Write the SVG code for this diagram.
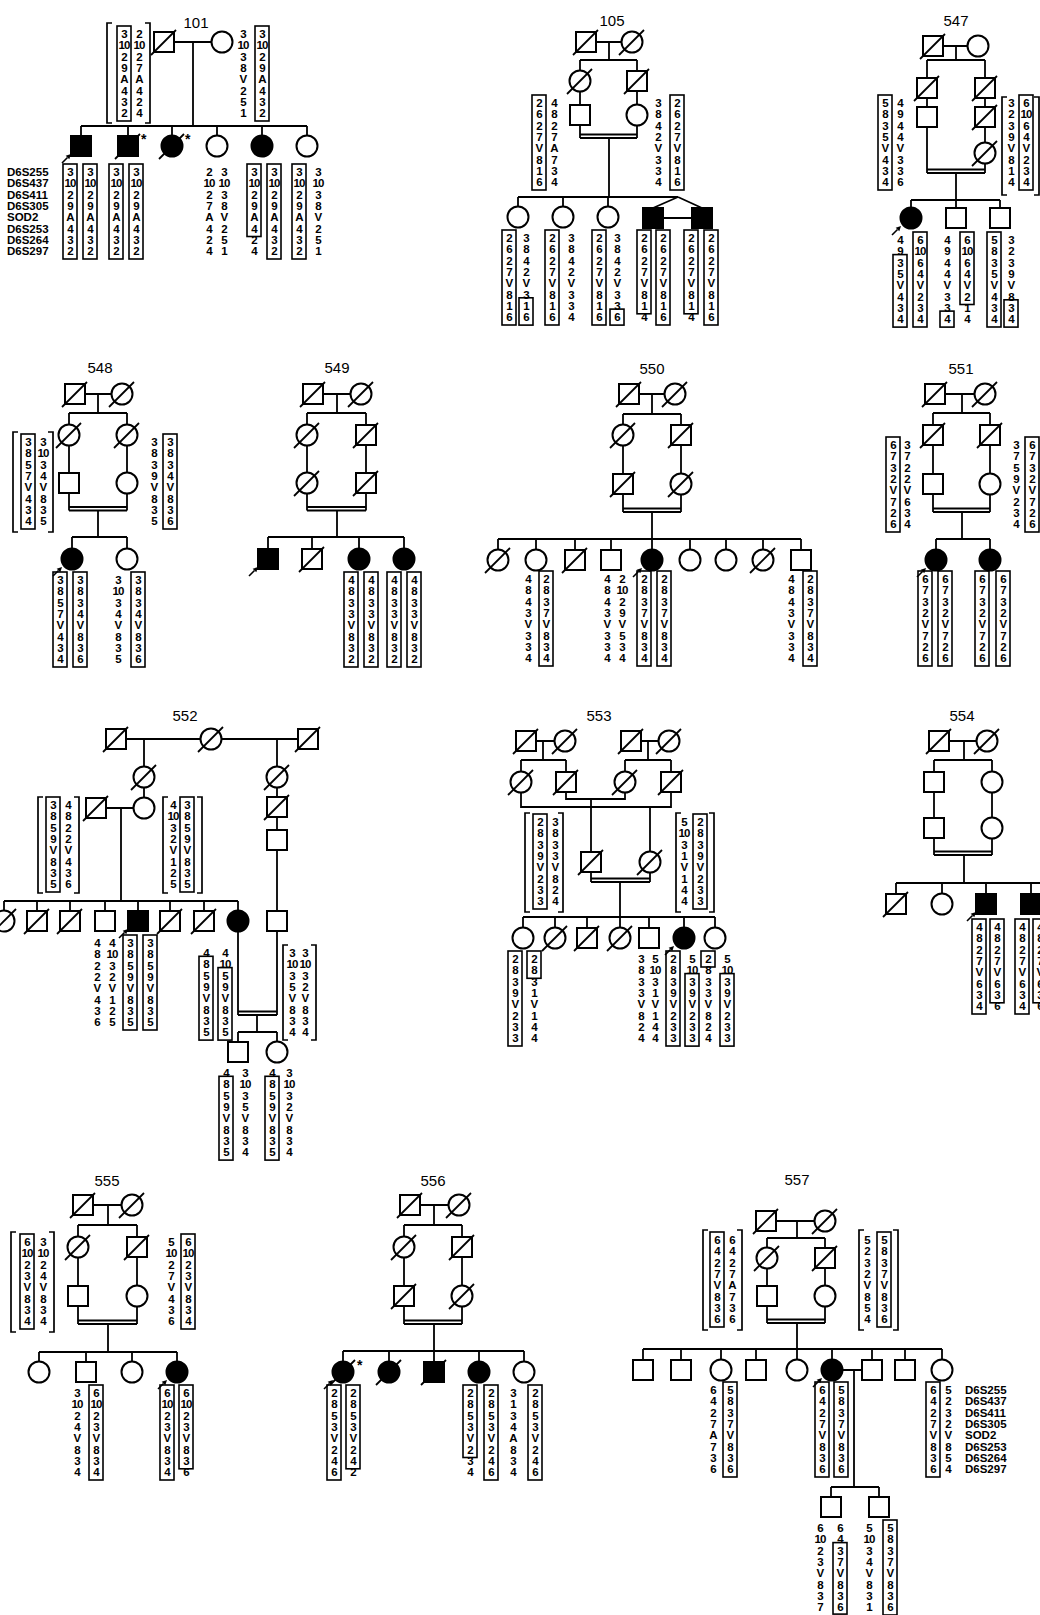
<svg xmlns="http://www.w3.org/2000/svg" xmlns:xlink="http://www.w3.org/1999/xlink" width="1040" height="1615" viewBox="0 0 1040 1615">
<style>
.s{fill:#fff;stroke:#000;stroke-width:2}
.f{fill:#000;stroke:#000;stroke-width:2}
.ln{fill:none;stroke:#000;stroke-width:1.8}
.bx{fill:none;stroke:#000;stroke-width:1.6}
.br{fill:none;stroke:#000;stroke-width:1.7}
.h{font-family:"Liberation Sans",Arial,sans-serif;font-weight:bold;font-size:11.5px;letter-spacing:-0.9px;text-anchor:middle;fill:#000}
.ttl{font-family:"Liberation Sans",Arial,sans-serif;font-size:15px;text-anchor:middle;fill:#000}
.mk{font-family:"Liberation Sans",Arial,sans-serif;font-weight:bold;font-size:11.5px;fill:#000}
.ast{font-family:"Liberation Sans",Arial,sans-serif;font-weight:bold;font-size:14px;fill:#000}
</style>
<defs>
<rect id="sq" class="s" x="-10" y="-10" width="20" height="20"/>
<rect id="fsq" class="f" x="-10" y="-10" width="20" height="20"/>
<circle id="ci" class="s" r="10.5"/>
<circle id="fci" class="f" r="10.5"/>
<line id="sl" class="ln" x1="-13" y1="13" x2="12" y2="-12"/>
<g id="dsq"><use href="#sq"/><use href="#sl"/></g>
<g id="dci"><use href="#ci"/><use href="#sl"/></g>
<g id="dfsq"><use href="#fsq"/><use href="#sl"/></g>
<g id="dfci"><use href="#fci"/><use href="#sl"/></g>
<g id="ar"><line x1="-19" y1="17" x2="-13.5" y2="11.5" stroke="#000" stroke-width="1.6"/><path d="M-10,8 L-15.3,9.7 L-11.7,13.3 Z" fill="#000"/></g>
<rect id="B" class="bx" x="-7" y="-12" width="14" height="95"/>
<text id="H1" class="h"><tspan x="0">3</tspan><tspan x="0" dy="11.3">10</tspan><tspan x="0" dy="11.3">2</tspan><tspan x="0" dy="11.3">9</tspan><tspan x="0" dy="11.3">A</tspan><tspan x="0" dy="11.3">4</tspan><tspan x="0" dy="11.3">3</tspan><tspan x="0" dy="11.3">2</tspan></text>
<text id="H2" class="h"><tspan x="0">2</tspan><tspan x="0" dy="11.3">10</tspan><tspan x="0" dy="11.3">2</tspan><tspan x="0" dy="11.3">7</tspan><tspan x="0" dy="11.3">A</tspan><tspan x="0" dy="11.3">4</tspan><tspan x="0" dy="11.3">2</tspan><tspan x="0" dy="11.3">4</tspan></text>
<text id="H3" class="h"><tspan x="0">3</tspan><tspan x="0" dy="11.3">10</tspan><tspan x="0" dy="11.3">3</tspan><tspan x="0" dy="11.3">8</tspan><tspan x="0" dy="11.3">V</tspan><tspan x="0" dy="11.3">2</tspan><tspan x="0" dy="11.3">5</tspan><tspan x="0" dy="11.3">1</tspan></text>
<text id="H59" class="h"><tspan x="0">3</tspan><tspan x="0" dy="11.3">10</tspan><tspan x="0" dy="11.3">2</tspan><tspan x="0" dy="11.3">9</tspan><tspan x="0" dy="11.3">A</tspan><tspan x="0" dy="11.3">4</tspan><tspan x="0" dy="11.3">2</tspan><tspan x="0" dy="11.3">4</tspan></text>
<text id="H4" class="h"><tspan x="0">2</tspan><tspan x="0" dy="11.3">6</tspan><tspan x="0" dy="11.3">2</tspan><tspan x="0" dy="11.3">7</tspan><tspan x="0" dy="11.3">V</tspan><tspan x="0" dy="11.3">8</tspan><tspan x="0" dy="11.3">1</tspan><tspan x="0" dy="11.3">6</tspan></text>
<text id="H5" class="h"><tspan x="0">4</tspan><tspan x="0" dy="11.3">8</tspan><tspan x="0" dy="11.3">2</tspan><tspan x="0" dy="11.3">7</tspan><tspan x="0" dy="11.3">A</tspan><tspan x="0" dy="11.3">7</tspan><tspan x="0" dy="11.3">3</tspan><tspan x="0" dy="11.3">4</tspan></text>
<text id="H6" class="h"><tspan x="0">3</tspan><tspan x="0" dy="11.3">8</tspan><tspan x="0" dy="11.3">4</tspan><tspan x="0" dy="11.3">2</tspan><tspan x="0" dy="11.3">V</tspan><tspan x="0" dy="11.3">3</tspan><tspan x="0" dy="11.3">3</tspan><tspan x="0" dy="11.3">4</tspan></text>
<text id="H7" class="h"><tspan x="0">3</tspan><tspan x="0" dy="11.3">8</tspan><tspan x="0" dy="11.3">4</tspan><tspan x="0" dy="11.3">2</tspan><tspan x="0" dy="11.3">V</tspan><tspan x="0" dy="11.3">3</tspan><tspan x="0" dy="11.3">1</tspan><tspan x="0" dy="11.3">6</tspan></text>
<text id="H8" class="h"><tspan x="0">3</tspan><tspan x="0" dy="11.3">8</tspan><tspan x="0" dy="11.3">4</tspan><tspan x="0" dy="11.3">2</tspan><tspan x="0" dy="11.3">V</tspan><tspan x="0" dy="11.3">3</tspan><tspan x="0" dy="11.3">3</tspan><tspan x="0" dy="11.3">6</tspan></text>
<text id="H9" class="h"><tspan x="0">2</tspan><tspan x="0" dy="11.3">6</tspan><tspan x="0" dy="11.3">2</tspan><tspan x="0" dy="11.3">7</tspan><tspan x="0" dy="11.3">V</tspan><tspan x="0" dy="11.3">8</tspan><tspan x="0" dy="11.3">1</tspan><tspan x="0" dy="11.3">4</tspan></text>
<text id="H10" class="h"><tspan x="0">5</tspan><tspan x="0" dy="11.3">8</tspan><tspan x="0" dy="11.3">3</tspan><tspan x="0" dy="11.3">5</tspan><tspan x="0" dy="11.3">V</tspan><tspan x="0" dy="11.3">4</tspan><tspan x="0" dy="11.3">3</tspan><tspan x="0" dy="11.3">4</tspan></text>
<text id="H11" class="h"><tspan x="0">4</tspan><tspan x="0" dy="11.3">9</tspan><tspan x="0" dy="11.3">4</tspan><tspan x="0" dy="11.3">4</tspan><tspan x="0" dy="11.3">V</tspan><tspan x="0" dy="11.3">3</tspan><tspan x="0" dy="11.3">3</tspan><tspan x="0" dy="11.3">6</tspan></text>
<text id="H12" class="h"><tspan x="0">3</tspan><tspan x="0" dy="11.3">2</tspan><tspan x="0" dy="11.3">3</tspan><tspan x="0" dy="11.3">9</tspan><tspan x="0" dy="11.3">V</tspan><tspan x="0" dy="11.3">8</tspan><tspan x="0" dy="11.3">1</tspan><tspan x="0" dy="11.3">4</tspan></text>
<text id="H13" class="h"><tspan x="0">6</tspan><tspan x="0" dy="11.3">10</tspan><tspan x="0" dy="11.3">6</tspan><tspan x="0" dy="11.3">4</tspan><tspan x="0" dy="11.3">V</tspan><tspan x="0" dy="11.3">2</tspan><tspan x="0" dy="11.3">3</tspan><tspan x="0" dy="11.3">4</tspan></text>
<text id="H14" class="h"><tspan x="0">4</tspan><tspan x="0" dy="11.3">9</tspan><tspan x="0" dy="11.3">3</tspan><tspan x="0" dy="11.3">5</tspan><tspan x="0" dy="11.3">V</tspan><tspan x="0" dy="11.3">4</tspan><tspan x="0" dy="11.3">3</tspan><tspan x="0" dy="11.3">4</tspan></text>
<text id="H15" class="h"><tspan x="0">4</tspan><tspan x="0" dy="11.3">9</tspan><tspan x="0" dy="11.3">4</tspan><tspan x="0" dy="11.3">4</tspan><tspan x="0" dy="11.3">V</tspan><tspan x="0" dy="11.3">3</tspan><tspan x="0" dy="11.3">3</tspan><tspan x="0" dy="11.3">4</tspan></text>
<text id="H16" class="h"><tspan x="0">6</tspan><tspan x="0" dy="11.3">10</tspan><tspan x="0" dy="11.3">6</tspan><tspan x="0" dy="11.3">4</tspan><tspan x="0" dy="11.3">V</tspan><tspan x="0" dy="11.3">2</tspan><tspan x="0" dy="11.3">1</tspan><tspan x="0" dy="11.3">4</tspan></text>
<text id="H17" class="h"><tspan x="0">3</tspan><tspan x="0" dy="11.3">2</tspan><tspan x="0" dy="11.3">3</tspan><tspan x="0" dy="11.3">9</tspan><tspan x="0" dy="11.3">V</tspan><tspan x="0" dy="11.3">8</tspan><tspan x="0" dy="11.3">3</tspan><tspan x="0" dy="11.3">4</tspan></text>
<text id="H18" class="h"><tspan x="0">3</tspan><tspan x="0" dy="11.3">8</tspan><tspan x="0" dy="11.3">5</tspan><tspan x="0" dy="11.3">7</tspan><tspan x="0" dy="11.3">V</tspan><tspan x="0" dy="11.3">4</tspan><tspan x="0" dy="11.3">3</tspan><tspan x="0" dy="11.3">4</tspan></text>
<text id="H19" class="h"><tspan x="0">3</tspan><tspan x="0" dy="11.3">10</tspan><tspan x="0" dy="11.3">3</tspan><tspan x="0" dy="11.3">4</tspan><tspan x="0" dy="11.3">V</tspan><tspan x="0" dy="11.3">8</tspan><tspan x="0" dy="11.3">3</tspan><tspan x="0" dy="11.3">5</tspan></text>
<text id="H20" class="h"><tspan x="0">3</tspan><tspan x="0" dy="11.3">8</tspan><tspan x="0" dy="11.3">3</tspan><tspan x="0" dy="11.3">9</tspan><tspan x="0" dy="11.3">V</tspan><tspan x="0" dy="11.3">8</tspan><tspan x="0" dy="11.3">3</tspan><tspan x="0" dy="11.3">5</tspan></text>
<text id="H21" class="h"><tspan x="0">3</tspan><tspan x="0" dy="11.3">8</tspan><tspan x="0" dy="11.3">3</tspan><tspan x="0" dy="11.3">4</tspan><tspan x="0" dy="11.3">V</tspan><tspan x="0" dy="11.3">8</tspan><tspan x="0" dy="11.3">3</tspan><tspan x="0" dy="11.3">6</tspan></text>
<text id="H22" class="h"><tspan x="0">4</tspan><tspan x="0" dy="11.3">8</tspan><tspan x="0" dy="11.3">3</tspan><tspan x="0" dy="11.3">3</tspan><tspan x="0" dy="11.3">V</tspan><tspan x="0" dy="11.3">8</tspan><tspan x="0" dy="11.3">3</tspan><tspan x="0" dy="11.3">2</tspan></text>
<text id="H23" class="h"><tspan x="0">4</tspan><tspan x="0" dy="11.3">8</tspan><tspan x="0" dy="11.3">4</tspan><tspan x="0" dy="11.3">3</tspan><tspan x="0" dy="11.3">V</tspan><tspan x="0" dy="11.3">3</tspan><tspan x="0" dy="11.3">3</tspan><tspan x="0" dy="11.3">4</tspan></text>
<text id="H24" class="h"><tspan x="0">2</tspan><tspan x="0" dy="11.3">8</tspan><tspan x="0" dy="11.3">3</tspan><tspan x="0" dy="11.3">7</tspan><tspan x="0" dy="11.3">V</tspan><tspan x="0" dy="11.3">8</tspan><tspan x="0" dy="11.3">3</tspan><tspan x="0" dy="11.3">4</tspan></text>
<text id="H25" class="h"><tspan x="0">2</tspan><tspan x="0" dy="11.3">10</tspan><tspan x="0" dy="11.3">2</tspan><tspan x="0" dy="11.3">9</tspan><tspan x="0" dy="11.3">V</tspan><tspan x="0" dy="11.3">5</tspan><tspan x="0" dy="11.3">3</tspan><tspan x="0" dy="11.3">4</tspan></text>
<text id="H26" class="h"><tspan x="0">6</tspan><tspan x="0" dy="11.3">7</tspan><tspan x="0" dy="11.3">3</tspan><tspan x="0" dy="11.3">2</tspan><tspan x="0" dy="11.3">V</tspan><tspan x="0" dy="11.3">7</tspan><tspan x="0" dy="11.3">2</tspan><tspan x="0" dy="11.3">6</tspan></text>
<text id="H27" class="h"><tspan x="0">3</tspan><tspan x="0" dy="11.3">7</tspan><tspan x="0" dy="11.3">2</tspan><tspan x="0" dy="11.3">2</tspan><tspan x="0" dy="11.3">V</tspan><tspan x="0" dy="11.3">6</tspan><tspan x="0" dy="11.3">3</tspan><tspan x="0" dy="11.3">4</tspan></text>
<text id="H28" class="h"><tspan x="0">3</tspan><tspan x="0" dy="11.3">7</tspan><tspan x="0" dy="11.3">5</tspan><tspan x="0" dy="11.3">9</tspan><tspan x="0" dy="11.3">V</tspan><tspan x="0" dy="11.3">2</tspan><tspan x="0" dy="11.3">3</tspan><tspan x="0" dy="11.3">4</tspan></text>
<text id="H29" class="h"><tspan x="0">3</tspan><tspan x="0" dy="11.3">8</tspan><tspan x="0" dy="11.3">5</tspan><tspan x="0" dy="11.3">9</tspan><tspan x="0" dy="11.3">V</tspan><tspan x="0" dy="11.3">8</tspan><tspan x="0" dy="11.3">3</tspan><tspan x="0" dy="11.3">5</tspan></text>
<text id="H30" class="h"><tspan x="0">4</tspan><tspan x="0" dy="11.3">8</tspan><tspan x="0" dy="11.3">2</tspan><tspan x="0" dy="11.3">2</tspan><tspan x="0" dy="11.3">V</tspan><tspan x="0" dy="11.3">4</tspan><tspan x="0" dy="11.3">3</tspan><tspan x="0" dy="11.3">6</tspan></text>
<text id="H31" class="h"><tspan x="0">4</tspan><tspan x="0" dy="11.3">10</tspan><tspan x="0" dy="11.3">3</tspan><tspan x="0" dy="11.3">2</tspan><tspan x="0" dy="11.3">V</tspan><tspan x="0" dy="11.3">1</tspan><tspan x="0" dy="11.3">2</tspan><tspan x="0" dy="11.3">5</tspan></text>
<text id="H32" class="h"><tspan x="0">4</tspan><tspan x="0" dy="11.3">8</tspan><tspan x="0" dy="11.3">5</tspan><tspan x="0" dy="11.3">9</tspan><tspan x="0" dy="11.3">V</tspan><tspan x="0" dy="11.3">8</tspan><tspan x="0" dy="11.3">3</tspan><tspan x="0" dy="11.3">5</tspan></text>
<text id="H33" class="h"><tspan x="0">4</tspan><tspan x="0" dy="11.3">10</tspan><tspan x="0" dy="11.3">5</tspan><tspan x="0" dy="11.3">9</tspan><tspan x="0" dy="11.3">V</tspan><tspan x="0" dy="11.3">8</tspan><tspan x="0" dy="11.3">3</tspan><tspan x="0" dy="11.3">5</tspan></text>
<text id="H34" class="h"><tspan x="0">3</tspan><tspan x="0" dy="11.3">10</tspan><tspan x="0" dy="11.3">3</tspan><tspan x="0" dy="11.3">5</tspan><tspan x="0" dy="11.3">V</tspan><tspan x="0" dy="11.3">8</tspan><tspan x="0" dy="11.3">3</tspan><tspan x="0" dy="11.3">4</tspan></text>
<text id="H35" class="h"><tspan x="0">3</tspan><tspan x="0" dy="11.3">10</tspan><tspan x="0" dy="11.3">3</tspan><tspan x="0" dy="11.3">2</tspan><tspan x="0" dy="11.3">V</tspan><tspan x="0" dy="11.3">8</tspan><tspan x="0" dy="11.3">3</tspan><tspan x="0" dy="11.3">4</tspan></text>
<text id="H36" class="h"><tspan x="0">2</tspan><tspan x="0" dy="11.3">8</tspan><tspan x="0" dy="11.3">3</tspan><tspan x="0" dy="11.3">9</tspan><tspan x="0" dy="11.3">V</tspan><tspan x="0" dy="11.3">2</tspan><tspan x="0" dy="11.3">3</tspan><tspan x="0" dy="11.3">3</tspan></text>
<text id="H37" class="h"><tspan x="0">3</tspan><tspan x="0" dy="11.3">8</tspan><tspan x="0" dy="11.3">3</tspan><tspan x="0" dy="11.3">3</tspan><tspan x="0" dy="11.3">V</tspan><tspan x="0" dy="11.3">8</tspan><tspan x="0" dy="11.3">2</tspan><tspan x="0" dy="11.3">4</tspan></text>
<text id="H38" class="h"><tspan x="0">5</tspan><tspan x="0" dy="11.3">10</tspan><tspan x="0" dy="11.3">3</tspan><tspan x="0" dy="11.3">1</tspan><tspan x="0" dy="11.3">V</tspan><tspan x="0" dy="11.3">1</tspan><tspan x="0" dy="11.3">4</tspan><tspan x="0" dy="11.3">4</tspan></text>
<text id="H39" class="h"><tspan x="0">2</tspan><tspan x="0" dy="11.3">8</tspan><tspan x="0" dy="11.3">3</tspan><tspan x="0" dy="11.3">1</tspan><tspan x="0" dy="11.3">V</tspan><tspan x="0" dy="11.3">1</tspan><tspan x="0" dy="11.3">4</tspan><tspan x="0" dy="11.3">4</tspan></text>
<text id="H40" class="h"><tspan x="0">5</tspan><tspan x="0" dy="11.3">10</tspan><tspan x="0" dy="11.3">3</tspan><tspan x="0" dy="11.3">9</tspan><tspan x="0" dy="11.3">V</tspan><tspan x="0" dy="11.3">2</tspan><tspan x="0" dy="11.3">3</tspan><tspan x="0" dy="11.3">3</tspan></text>
<text id="H41" class="h"><tspan x="0">2</tspan><tspan x="0" dy="11.3">8</tspan><tspan x="0" dy="11.3">3</tspan><tspan x="0" dy="11.3">3</tspan><tspan x="0" dy="11.3">V</tspan><tspan x="0" dy="11.3">8</tspan><tspan x="0" dy="11.3">2</tspan><tspan x="0" dy="11.3">4</tspan></text>
<text id="H42" class="h"><tspan x="0">4</tspan><tspan x="0" dy="11.3">8</tspan><tspan x="0" dy="11.3">2</tspan><tspan x="0" dy="11.3">7</tspan><tspan x="0" dy="11.3">V</tspan><tspan x="0" dy="11.3">6</tspan><tspan x="0" dy="11.3">3</tspan><tspan x="0" dy="11.3">4</tspan></text>
<text id="H43" class="h"><tspan x="0">4</tspan><tspan x="0" dy="11.3">8</tspan><tspan x="0" dy="11.3">2</tspan><tspan x="0" dy="11.3">7</tspan><tspan x="0" dy="11.3">V</tspan><tspan x="0" dy="11.3">6</tspan><tspan x="0" dy="11.3">3</tspan><tspan x="0" dy="11.3">6</tspan></text>
<text id="H44" class="h"><tspan x="0">6</tspan><tspan x="0" dy="11.3">10</tspan><tspan x="0" dy="11.3">2</tspan><tspan x="0" dy="11.3">3</tspan><tspan x="0" dy="11.3">V</tspan><tspan x="0" dy="11.3">8</tspan><tspan x="0" dy="11.3">3</tspan><tspan x="0" dy="11.3">4</tspan></text>
<text id="H45" class="h"><tspan x="0">3</tspan><tspan x="0" dy="11.3">10</tspan><tspan x="0" dy="11.3">2</tspan><tspan x="0" dy="11.3">4</tspan><tspan x="0" dy="11.3">V</tspan><tspan x="0" dy="11.3">8</tspan><tspan x="0" dy="11.3">3</tspan><tspan x="0" dy="11.3">4</tspan></text>
<text id="H46" class="h"><tspan x="0">5</tspan><tspan x="0" dy="11.3">10</tspan><tspan x="0" dy="11.3">2</tspan><tspan x="0" dy="11.3">7</tspan><tspan x="0" dy="11.3">V</tspan><tspan x="0" dy="11.3">4</tspan><tspan x="0" dy="11.3">3</tspan><tspan x="0" dy="11.3">6</tspan></text>
<text id="H47" class="h"><tspan x="0">6</tspan><tspan x="0" dy="11.3">10</tspan><tspan x="0" dy="11.3">2</tspan><tspan x="0" dy="11.3">3</tspan><tspan x="0" dy="11.3">V</tspan><tspan x="0" dy="11.3">8</tspan><tspan x="0" dy="11.3">3</tspan><tspan x="0" dy="11.3">6</tspan></text>
<text id="H48" class="h"><tspan x="0">2</tspan><tspan x="0" dy="11.3">8</tspan><tspan x="0" dy="11.3">5</tspan><tspan x="0" dy="11.3">3</tspan><tspan x="0" dy="11.3">V</tspan><tspan x="0" dy="11.3">2</tspan><tspan x="0" dy="11.3">4</tspan><tspan x="0" dy="11.3">6</tspan></text>
<text id="H49" class="h"><tspan x="0">2</tspan><tspan x="0" dy="11.3">8</tspan><tspan x="0" dy="11.3">5</tspan><tspan x="0" dy="11.3">3</tspan><tspan x="0" dy="11.3">V</tspan><tspan x="0" dy="11.3">2</tspan><tspan x="0" dy="11.3">4</tspan><tspan x="0" dy="11.3">2</tspan></text>
<text id="H50" class="h"><tspan x="0">2</tspan><tspan x="0" dy="11.3">8</tspan><tspan x="0" dy="11.3">5</tspan><tspan x="0" dy="11.3">3</tspan><tspan x="0" dy="11.3">V</tspan><tspan x="0" dy="11.3">2</tspan><tspan x="0" dy="11.3">3</tspan><tspan x="0" dy="11.3">4</tspan></text>
<text id="H51" class="h"><tspan x="0">3</tspan><tspan x="0" dy="11.3">1</tspan><tspan x="0" dy="11.3">3</tspan><tspan x="0" dy="11.3">4</tspan><tspan x="0" dy="11.3">A</tspan><tspan x="0" dy="11.3">8</tspan><tspan x="0" dy="11.3">3</tspan><tspan x="0" dy="11.3">4</tspan></text>
<text id="H52" class="h"><tspan x="0">6</tspan><tspan x="0" dy="11.3">4</tspan><tspan x="0" dy="11.3">2</tspan><tspan x="0" dy="11.3">7</tspan><tspan x="0" dy="11.3">V</tspan><tspan x="0" dy="11.3">8</tspan><tspan x="0" dy="11.3">3</tspan><tspan x="0" dy="11.3">6</tspan></text>
<text id="H53" class="h"><tspan x="0">6</tspan><tspan x="0" dy="11.3">4</tspan><tspan x="0" dy="11.3">2</tspan><tspan x="0" dy="11.3">7</tspan><tspan x="0" dy="11.3">A</tspan><tspan x="0" dy="11.3">7</tspan><tspan x="0" dy="11.3">3</tspan><tspan x="0" dy="11.3">6</tspan></text>
<text id="H54" class="h"><tspan x="0">5</tspan><tspan x="0" dy="11.3">2</tspan><tspan x="0" dy="11.3">3</tspan><tspan x="0" dy="11.3">2</tspan><tspan x="0" dy="11.3">V</tspan><tspan x="0" dy="11.3">8</tspan><tspan x="0" dy="11.3">5</tspan><tspan x="0" dy="11.3">4</tspan></text>
<text id="H55" class="h"><tspan x="0">5</tspan><tspan x="0" dy="11.3">8</tspan><tspan x="0" dy="11.3">3</tspan><tspan x="0" dy="11.3">7</tspan><tspan x="0" dy="11.3">V</tspan><tspan x="0" dy="11.3">8</tspan><tspan x="0" dy="11.3">3</tspan><tspan x="0" dy="11.3">6</tspan></text>
<text id="H56" class="h"><tspan x="0">6</tspan><tspan x="0" dy="11.3">10</tspan><tspan x="0" dy="11.3">2</tspan><tspan x="0" dy="11.3">3</tspan><tspan x="0" dy="11.3">V</tspan><tspan x="0" dy="11.3">8</tspan><tspan x="0" dy="11.3">3</tspan><tspan x="0" dy="11.3">7</tspan></text>
<text id="H57" class="h"><tspan x="0">6</tspan><tspan x="0" dy="11.3">4</tspan><tspan x="0" dy="11.3">3</tspan><tspan x="0" dy="11.3">7</tspan><tspan x="0" dy="11.3">V</tspan><tspan x="0" dy="11.3">8</tspan><tspan x="0" dy="11.3">3</tspan><tspan x="0" dy="11.3">6</tspan></text>
<text id="H58" class="h"><tspan x="0">5</tspan><tspan x="0" dy="11.3">10</tspan><tspan x="0" dy="11.3">3</tspan><tspan x="0" dy="11.3">4</tspan><tspan x="0" dy="11.3">V</tspan><tspan x="0" dy="11.3">8</tspan><tspan x="0" dy="11.3">3</tspan><tspan x="0" dy="11.3">1</tspan></text>
</defs>
<rect width="1040" height="1615" fill="#fff"/>

<g id="connectors">
<path class="ln" d="M174,42H211.5 M193,42V126 M81,126H307 M81,126V136 M128,126V136 M172,126V135.5 M217,126V135.5 M262,126V135.5 M307,126V135.5"/>
<path class="ln" d="M596,42H621.5 M609,42V60 M580,60H637 M580,60V70.5 M637,60V71 M580,91.5V105 M637,91V105 M580,125V138 M637,125.5V138 M580,134.5H637 M580,138H637 M609,138V197 M518,197H678 M518,197V206.5 M563,197V206.5 M608,197V206.5 M678,197L653,208 M678,197L702,208 M663,218H692"/>
<path class="ln" d="M943,46H967.5 M956,46V60 M927,60H985 M927,60V78 M985,60V78 M927,98V107 M985,98V107 M985,127V142.5 M927,127V173 M985,163.5V173 M927,169.5H985 M927,173H985 M956,173V200 M911,200H1000 M911,200V207.5 M956,200V208 M1000,200V208"/>
<path class="ln" d="M85,394H111.5 M98,394V413 M69,413H127 M69,413V424.5 M127,413V424.5 M69,445.5V473 M127,445.5V472.5 M69,493V510.5 M127,493.5V510.5 M69,507H127 M69,510.5H127 M98,510.5V537 M72,537H127 M72,537V548.5 M127,537V548.5"/>
<path class="ln" d="M323,394H350.5 M337,394V413 M307,413H366 M307,413V424.5 M366,413V425 M307,445.5V472.5 M366,445V473 M307,493.5V510.5 M366,493V510.5 M307,507H366 M307,510.5H366 M337,510.5V537 M268,537H404 M268,537V549 M312,537V549 M359,537V548.5 M404,537V548.5"/>
<path class="ln" d="M639,394H664.5 M652,394V414 M623,414H681 M623,414V424.5 M681,414V425 M623,445.5V474 M681,445V473.5 M623,494V512 M681,494.5V512 M623,508.5H681 M623,512H681 M652,512V539 M498,539H801 M498,539V549.5 M536,539V549.5 M575,539V550 M611,539V550 M652,539V549.5 M690,539V549.5 M726,539V549.5 M763,539V549.5 M801,539V550"/>
<path class="ln" d="M945,394H974.5 M962,394V413 M933,413H990 M933,413V425 M990,413V425 M933,445V474 M990,445V473.5 M933,494V512 M990,494.5V512 M933,508.5H990 M933,512H990 M962,512V539 M936,539H990 M936,539V549.5 M990,539V549.5"/>
<path class="ln" d="M126,739H200.5 M221.5,739H298 M144,739V766.5 M277,739V766.5 M144,787.5V797.5 M277,787.5V797 M277,817V830 M277,850V911 M277,931V1015 M106,808H133.5 M121,808V901 M4,901H238 M4,901V910.5 M37,901V911 M70,901V911 M105,901V911 M138,901V911 M170,901V911 M204,901V911 M238,901V910.5 M238,931.5V1015 M238,1011.5H277 M238,1015H277 M257,1015V1032 M238,1032H277 M238,1032V1042 M277,1032V1041.5"/>
<path class="ln" d="M536,741H554.5 M543,741V760 M521,760H566 M521,760V771.5 M566,760V772 M641,741H658.5 M648,741V760 M625,760H671 M625,760V771.5 M671,760V772 M566,792V799H625V792.5 M521,792.5V807H671V792 M591,799V852 M650,807V851.5 M591,872V882 M650,872.5V882 M591,878.5H650 M591,882H650 M620,882V917 M523,917H715 M523,917V927.5 M555,917V927.5 M587,917V928 M620,917V927.5 M649,917V928 M684,917V927.5 M715,917V927.5"/>
<path class="ln" d="M949,741H976.5 M964,741V760 M934,760H992 M934,760V772 M992,760V771.5 M934,792V818 M992,792.5V817.5 M934,838V855 M992,838.5V855 M934,851.5H992 M934,855H992 M964,855V883 M896,883H1040 M896,883V894 M942,883V893.5 M986,883V894 M1031,883V894"/>
<path class="ln" d="M93,1205H121.5 M108,1205V1225 M78,1225H137 M78,1225V1236.5 M137,1225V1237 M78,1257.5V1286 M137,1257V1285.5 M78,1306V1324 M137,1306.5V1324 M78,1320.5H137 M78,1324H137 M108,1324V1352 M39,1352H177 M39,1352V1361.5 M86,1352V1362 M132,1352V1361.5 M177,1352V1361.5"/>
<path class="ln" d="M420,1205H448.5 M434,1205V1225 M404,1225H462 M404,1225V1236.5 M462,1225V1237 M404,1257.5V1286 M462,1257V1285.5 M404,1306V1324 M462,1306.5V1324 M404,1320.5H462 M404,1324H462 M434,1324V1351 M343,1351H524 M343,1351V1361.5 M389,1351V1361.5 M434,1351V1362 M479,1351V1361.5 M524,1351V1361.5"/>
<path class="ln" d="M776,1221H814.5 M797,1221V1238 M767,1238H825 M767,1238V1247.5 M825,1238V1248 M767,1268.5V1286 M825,1268V1285.5 M767,1306V1323 M825,1306.5V1323 M767,1319.5H825 M767,1323H825 M797,1323V1349 M643,1349H942 M643,1349V1360 M681,1349V1360 M721,1349V1359.5 M756,1349V1360 M797,1349V1359.5 M832,1349V1359.5 M872,1349V1360 M905,1349V1360 M942,1349V1359.5 M842.5,1370H862 M854,1370V1487 M831,1487H879 M831,1487V1497 M879,1487V1497"/>
</g>

<g id="ped101">
<text class="ttl" x="196" y="28">101</text>
<g id="p101-I1"><use href="#dsq" x="164" y="42"/><path class="br" d="M112,23H107V123H112 M145,23H150V123H145"/><use href="#B" x="124" y="38"/><use href="#H1" x="124" y="38"/><use href="#H2" x="139" y="38"/></g>
<g id="p101-I2"><use href="#ci" x="222" y="42"/><use href="#H3" x="243" y="38"/><use href="#B" x="262" y="38"/><use href="#H1" x="262" y="38"/></g>
<g id="p101-markers"><text class="mk" x="7" y="176">D6S255</text><text class="mk" x="7" y="187.3">D6S437</text><text class="mk" x="7" y="198.6">D6S411</text><text class="mk" x="7" y="209.9">D6S305</text><text class="mk" x="7" y="221.2">SOD2</text><text class="mk" x="7" y="232.5">D6S253</text><text class="mk" x="7" y="243.8">D6S264</text><text class="mk" x="7" y="255.1">D6S297</text></g>
<g id="p101-II1"><use href="#fsq" x="81" y="146"/><use href="#ar" x="81" y="146"/><use href="#B" x="70" y="176"/><use href="#H1" x="70" y="176"/><use href="#B" x="90" y="176"/><use href="#H1" x="90" y="176"/></g>
<g id="p101-II2"><use href="#dfsq" x="128" y="146"/><text class="ast" x="141" y="144">*</text><use href="#B" x="116" y="176"/><use href="#H1" x="116" y="176"/><use href="#B" x="136" y="176"/><use href="#H1" x="136" y="176"/></g>
<g id="p101-II3"><use href="#dfci" x="172" y="146"/><text class="ast" x="185" y="144">*</text></g>
<g id="p101-II4"><use href="#ci" x="217" y="146"/><use href="#H2" x="209" y="176"/><use href="#H3" x="224" y="176"/></g>
<g id="p101-II5"><use href="#fci" x="262" y="146"/><use href="#H59" x="254" y="176"/><rect class="bx" x="247" y="164" width="14" height="72.5"/><use href="#B" x="274" y="176"/><use href="#H1" x="274" y="176"/></g>
<g id="p101-II6"><use href="#ci" x="307" y="146"/><use href="#B" x="299" y="176"/><use href="#H1" x="299" y="176"/><use href="#H3" x="318" y="176"/></g>
</g>

<g id="ped105">
<text class="ttl" x="612" y="26">105</text>
<g id="p105-I1"><use href="#dsq" x="586" y="42"/></g>
<g id="p105-I2"><use href="#dci" x="632" y="42"/></g>
<g id="p105-II1"><use href="#dci" x="580" y="81"/></g>
<g id="p105-II2"><use href="#dsq" x="637" y="81"/></g>
<g id="p105-III1"><use href="#sq" x="580" y="115"/><use href="#B" x="539" y="107"/><use href="#H4" x="539" y="107"/><use href="#H5" x="554" y="107"/></g>
<g id="p105-III2"><use href="#ci" x="637" y="115"/><use href="#H6" x="658" y="107"/><use href="#B" x="677" y="107"/><use href="#H4" x="677" y="107"/></g>
<g id="p105-IV1"><use href="#ci" x="518" y="217"/><use href="#B" x="509" y="242"/><use href="#H4" x="509" y="242"/><use href="#H7" x="526" y="242"/><rect class="bx" x="519" y="297.8" width="14" height="27.3"/></g>
<g id="p105-IV2"><use href="#ci" x="563" y="217"/><use href="#B" x="552" y="242"/><use href="#H4" x="552" y="242"/><use href="#H6" x="571" y="242"/></g>
<g id="p105-IV3"><use href="#ci" x="608" y="217"/><use href="#B" x="599" y="242"/><use href="#H4" x="599" y="242"/><use href="#H8" x="617" y="242"/><rect class="bx" x="610" y="309.1" width="14" height="16"/></g>
<g id="p105-IV4"><use href="#fsq" x="653" y="218"/><use href="#H9" x="644" y="242"/><rect class="bx" x="637" y="230" width="14" height="83.8"/><use href="#B" x="663" y="242"/><use href="#H4" x="663" y="242"/></g>
<g id="p105-IV5"><use href="#fsq" x="702" y="218"/><use href="#H9" x="691" y="242"/><rect class="bx" x="684" y="230" width="14" height="83.8"/><use href="#B" x="711" y="242"/><use href="#H4" x="711" y="242"/></g>
</g>

<g id="ped547">
<text class="ttl" x="956" y="26">547</text>
<g id="p547-I1"><use href="#dsq" x="933" y="46"/></g>
<g id="p547-I2"><use href="#ci" x="978" y="46"/></g>
<g id="p547-II1"><use href="#dsq" x="927" y="88"/></g>
<g id="p547-II2"><use href="#dsq" x="985" y="88"/></g>
<g id="p547-III1"><use href="#sq" x="927" y="117"/><use href="#B" x="885" y="107"/><use href="#H10" x="885" y="107"/><use href="#H11" x="900" y="107"/></g>
<g id="p547-III2"><use href="#dsq" x="985" y="117"/></g>
<g id="p547-IV1"><use href="#dci" x="985" y="153"/><path class="br" d="M1007,97H1002V195H1007 M1034,97H1039V195H1034"/><use href="#H12" x="1011" y="107"/><use href="#B" x="1026" y="107"/><use href="#H13" x="1026" y="107"/></g>
<g id="p547-V1"><use href="#fci" x="911" y="218"/><use href="#ar" x="911" y="218"/><use href="#H14" x="900" y="244"/><rect class="bx" x="893" y="254.6" width="14" height="72.5"/><use href="#B" x="920" y="244"/><use href="#H13" x="920" y="244"/></g>
<g id="p547-V2"><use href="#sq" x="956" y="218"/><use href="#H15" x="947" y="244"/><rect class="bx" x="940" y="311.1" width="14" height="16"/><use href="#H16" x="967" y="244"/><rect class="bx" x="960" y="232" width="14" height="72.5"/></g>
<g id="p547-V3"><use href="#sq" x="1000" y="218"/><use href="#B" x="994" y="244"/><use href="#H10" x="994" y="244"/><use href="#H17" x="1011" y="244"/><rect class="bx" x="1004" y="299.8" width="14" height="27.3"/></g>
</g>

<g id="ped548">
<text class="ttl" x="100" y="373">548</text>
<g id="p548-I1"><use href="#dsq" x="75" y="394"/></g>
<g id="p548-I2"><use href="#dci" x="122" y="394"/></g>
<g id="p548-II1"><use href="#dci" x="69" y="435"/></g>
<g id="p548-II2"><use href="#dci" x="127" y="435"/></g>
<g id="p548-III1"><use href="#sq" x="69" y="483"/><path class="br" d="M18,432H13V532H18 M48,432H53V532H48"/><use href="#B" x="28" y="446"/><use href="#H18" x="28" y="446"/><use href="#H19" x="43" y="446"/></g>
<g id="p548-III2"><use href="#ci" x="127" y="483"/><use href="#H20" x="154" y="446"/><use href="#B" x="170" y="446"/><use href="#H21" x="170" y="446"/></g>
<g id="p548-IV1"><use href="#fci" x="72" y="559"/><use href="#ar" x="72" y="559"/><use href="#B" x="60" y="584"/><use href="#H18" x="60" y="584"/><use href="#B" x="80" y="584"/><use href="#H21" x="80" y="584"/></g>
<g id="p548-IV2"><use href="#ci" x="127" y="559"/><use href="#H19" x="118" y="584"/><use href="#B" x="138" y="584"/><use href="#H21" x="138" y="584"/></g>
</g>

<g id="ped549">
<text class="ttl" x="337" y="373">549</text>
<g id="p549-I1"><use href="#dsq" x="313" y="394"/></g>
<g id="p549-I2"><use href="#dci" x="361" y="394"/></g>
<g id="p549-II1"><use href="#dci" x="307" y="435"/></g>
<g id="p549-II2"><use href="#dsq" x="366" y="435"/></g>
<g id="p549-III1"><use href="#dci" x="307" y="483"/></g>
<g id="p549-III2"><use href="#dsq" x="366" y="483"/></g>
<g id="p549-IV1"><use href="#fsq" x="268" y="559"/><use href="#ar" x="268" y="559"/></g>
<g id="p549-IV2"><use href="#dsq" x="312" y="559"/></g>
<g id="p549-IV3"><use href="#fci" x="359" y="559"/><use href="#B" x="351" y="584"/><use href="#H22" x="351" y="584"/><use href="#B" x="371" y="584"/><use href="#H22" x="371" y="584"/></g>
<g id="p549-IV4"><use href="#fci" x="404" y="559"/><use href="#B" x="394" y="584"/><use href="#H22" x="394" y="584"/><use href="#B" x="414" y="584"/><use href="#H22" x="414" y="584"/></g>
</g>

<g id="ped550">
<text class="ttl" x="652" y="374">550</text>
<g id="p550-I1"><use href="#dsq" x="629" y="394"/></g>
<g id="p550-I2"><use href="#dci" x="675" y="394"/></g>
<g id="p550-II1"><use href="#dci" x="623" y="435"/></g>
<g id="p550-II2"><use href="#dsq" x="681" y="435"/></g>
<g id="p550-III1"><use href="#dsq" x="623" y="484"/></g>
<g id="p550-III2"><use href="#dci" x="681" y="484"/></g>
<g id="p550-IV1"><use href="#dci" x="498" y="560"/></g>
<g id="p550-IV2"><use href="#ci" x="536" y="560"/><use href="#H23" x="528" y="583"/><use href="#B" x="546" y="583"/><use href="#H24" x="546" y="583"/></g>
<g id="p550-IV3"><use href="#dsq" x="575" y="560"/></g>
<g id="p550-IV4"><use href="#sq" x="611" y="560"/><use href="#H23" x="607" y="583"/><use href="#H25" x="622" y="583"/></g>
<g id="p550-IV5"><use href="#fci" x="652" y="560"/><use href="#ar" x="652" y="560"/><use href="#B" x="644" y="583"/><use href="#H24" x="644" y="583"/><use href="#B" x="664" y="583"/><use href="#H24" x="664" y="583"/></g>
<g id="p550-IV6"><use href="#ci" x="690" y="560"/></g>
<g id="p550-IV7"><use href="#ci" x="726" y="560"/></g>
<g id="p550-IV8"><use href="#dci" x="763" y="560"/></g>
<g id="p550-IV9"><use href="#sq" x="801" y="560"/><use href="#H23" x="791" y="583"/><use href="#B" x="810" y="583"/><use href="#H24" x="810" y="583"/></g>
</g>

<g id="ped551">
<text class="ttl" x="961" y="374">551</text>
<g id="p551-I1"><use href="#dsq" x="935" y="394"/></g>
<g id="p551-I2"><use href="#dci" x="985" y="394"/></g>
<g id="p551-II1"><use href="#dsq" x="933" y="435"/></g>
<g id="p551-II2"><use href="#dsq" x="990" y="435"/></g>
<g id="p551-III1"><use href="#sq" x="933" y="484"/><use href="#B" x="893" y="449"/><use href="#H26" x="893" y="449"/><use href="#H27" x="907" y="449"/></g>
<g id="p551-III2"><use href="#ci" x="990" y="484"/><use href="#H28" x="1016" y="449"/><use href="#B" x="1032" y="449"/><use href="#H26" x="1032" y="449"/></g>
<g id="p551-IV1"><use href="#fci" x="936" y="560"/><use href="#ar" x="936" y="560"/><use href="#B" x="925" y="583"/><use href="#H26" x="925" y="583"/><use href="#B" x="945" y="583"/><use href="#H26" x="945" y="583"/></g>
<g id="p551-IV2"><use href="#fci" x="990" y="560"/><use href="#B" x="982" y="583"/><use href="#H26" x="982" y="583"/><use href="#B" x="1003" y="583"/><use href="#H26" x="1003" y="583"/></g>
</g>

<g id="ped552">
<text class="ttl" x="185" y="721">552</text>
<g id="p552-I1"><use href="#dsq" x="116" y="739"/></g>
<g id="p552-I2"><use href="#dci" x="211" y="739"/></g>
<g id="p552-I3"><use href="#dsq" x="308" y="739"/></g>
<g id="p552-II1"><use href="#dci" x="144" y="777"/></g>
<g id="p552-II2"><use href="#dci" x="277" y="777"/></g>
<g id="p552-III1"><use href="#dsq" x="96" y="808"/><path class="br" d="M43,797H38V893H43 M74,797H79V893H74"/><use href="#B" x="53" y="809"/><use href="#H29" x="53" y="809"/><use href="#H30" x="68" y="809"/></g>
<g id="p552-III2"><use href="#ci" x="144" y="808"/><path class="br" d="M168,797H163V893H168 M197,797H202V893H197"/><use href="#H31" x="173" y="809"/><use href="#B" x="187" y="809"/><use href="#H29" x="187" y="809"/></g>
<g id="p552-III3"><use href="#dsq" x="277" y="807"/></g>
<g id="p552-IV0"><use href="#sq" x="277" y="840"/></g>
<g id="p552-IV1"><use href="#dci" x="4" y="921"/></g>
<g id="p552-IV2"><use href="#dsq" x="37" y="921"/></g>
<g id="p552-IV3"><use href="#dsq" x="70" y="921"/></g>
<g id="p552-IV4"><use href="#sq" x="105" y="921"/><use href="#H30" x="97" y="947"/><use href="#H31" x="112" y="947"/></g>
<g id="p552-IV5"><use href="#fsq" x="138" y="921"/><use href="#ar" x="138" y="921"/><use href="#B" x="130" y="947"/><use href="#H29" x="130" y="947"/><use href="#B" x="150" y="947"/><use href="#H29" x="150" y="947"/></g>
<g id="p552-IV6"><use href="#dsq" x="170" y="921"/></g>
<g id="p552-IV7"><use href="#dsq" x="204" y="921"/></g>
<g id="p552-IV8"><use href="#fci" x="238" y="921"/><use href="#H32" x="206" y="957"/><rect class="bx" x="199" y="956.3" width="14" height="83.8"/><use href="#H33" x="225" y="957"/><rect class="bx" x="218" y="967.6" width="14" height="72.5"/></g>
<g id="p552-IV9"><use href="#sq" x="277" y="921"/><path class="br" d="M288,945H283V1040H288 M311,945H316V1040H311"/><use href="#H34" x="292" y="957"/><use href="#H35" x="305" y="957"/></g>
<g id="p552-V1"><use href="#sq" x="238" y="1052"/><use href="#H32" x="226" y="1077"/><rect class="bx" x="219" y="1076.3" width="14" height="83.8"/><use href="#H34" x="245" y="1077"/></g>
<g id="p552-V2"><use href="#ci" x="277" y="1052"/><use href="#H32" x="272" y="1077"/><rect class="bx" x="265" y="1076.3" width="14" height="83.8"/><use href="#H35" x="289" y="1077"/></g>
</g>

<g id="ped553">
<text class="ttl" x="599" y="721">553</text>
<g id="p553-I1"><use href="#dsq" x="526" y="741"/></g>
<g id="p553-I2"><use href="#dci" x="565" y="741"/></g>
<g id="p553-I3"><use href="#dsq" x="631" y="741"/></g>
<g id="p553-I4"><use href="#dci" x="669" y="741"/></g>
<g id="p553-II1"><use href="#dci" x="521" y="782"/></g>
<g id="p553-II2"><use href="#dsq" x="566" y="782"/></g>
<g id="p553-II3"><use href="#dci" x="625" y="782"/></g>
<g id="p553-II4"><use href="#dsq" x="671" y="782"/></g>
<g id="p553-III1"><use href="#dsq" x="591" y="862"/><path class="br" d="M530,813H525V912H530 M558,813H563V912H558"/><use href="#B" x="540" y="826"/><use href="#H36" x="540" y="826"/><use href="#H37" x="555" y="826"/></g>
<g id="p553-III2"><use href="#dci" x="650" y="862"/><path class="br" d="M681,813H676V912H681 M709,813H714V912H709"/><use href="#H38" x="684" y="826"/><use href="#B" x="700" y="826"/><use href="#H36" x="700" y="826"/></g>
<g id="p553-IV1"><use href="#ci" x="523" y="938"/><use href="#B" x="515" y="963"/><use href="#H36" x="515" y="963"/><use href="#H39" x="534" y="963"/><rect class="bx" x="527" y="951" width="14" height="27.3"/></g>
<g id="p553-IV2"><use href="#dci" x="555" y="938"/></g>
<g id="p553-IV3"><use href="#dsq" x="587" y="938"/></g>
<g id="p553-IV4"><use href="#dci" x="620" y="938"/></g>
<g id="p553-IV5"><use href="#sq" x="649" y="938"/><use href="#H37" x="641" y="963"/><use href="#H38" x="655" y="963"/></g>
<g id="p553-IV6"><use href="#fci" x="684" y="938"/><use href="#ar" x="684" y="938"/><use href="#B" x="673" y="963"/><use href="#H36" x="673" y="963"/><use href="#H40" x="692" y="963"/><rect class="bx" x="685" y="973.6" width="14" height="72.5"/></g>
<g id="p553-IV7"><use href="#ci" x="715" y="938"/><use href="#H41" x="708" y="963"/><rect class="bx" x="701" y="951" width="14" height="16"/><use href="#H40" x="727" y="963"/><rect class="bx" x="720" y="973.6" width="14" height="72.5"/></g>
</g>

<g id="ped554">
<text class="ttl" x="962" y="721">554</text>
<g id="p554-I1"><use href="#dsq" x="939" y="741"/></g>
<g id="p554-I2"><use href="#dci" x="987" y="741"/></g>
<g id="p554-II1"><use href="#sq" x="934" y="782"/></g>
<g id="p554-II2"><use href="#ci" x="992" y="782"/></g>
<g id="p554-III1"><use href="#sq" x="934" y="828"/></g>
<g id="p554-III2"><use href="#ci" x="992" y="828"/></g>
<g id="p554-IV1"><use href="#dsq" x="896" y="904"/></g>
<g id="p554-IV2"><use href="#ci" x="942" y="904"/></g>
<g id="p554-IV3"><use href="#fsq" x="986" y="904"/><use href="#ar" x="986" y="904"/><use href="#B" x="979" y="931"/><use href="#H42" x="979" y="931"/><use href="#H43" x="997" y="931"/><rect class="bx" x="990" y="919" width="14" height="83.8"/></g>
<g id="p554-IV4"><use href="#fsq" x="1031" y="904"/><use href="#B" x="1022" y="931"/><use href="#H42" x="1022" y="931"/><use href="#H43" x="1040" y="931"/><rect class="bx" x="1033" y="919" width="14" height="83.8"/></g>
</g>

<g id="ped555">
<text class="ttl" x="107" y="1186">555</text>
<g id="p555-I1"><use href="#dsq" x="83" y="1205"/></g>
<g id="p555-I2"><use href="#dci" x="132" y="1205"/></g>
<g id="p555-II1"><use href="#dci" x="78" y="1247"/></g>
<g id="p555-II2"><use href="#dsq" x="137" y="1247"/></g>
<g id="p555-III1"><use href="#sq" x="78" y="1296"/><path class="br" d="M16,1232H11V1332H16 M49,1232H54V1332H49"/><use href="#B" x="27" y="1246"/><use href="#H44" x="27" y="1246"/><use href="#H45" x="43" y="1246"/></g>
<g id="p555-III2"><use href="#ci" x="137" y="1296"/><use href="#H46" x="171" y="1246"/><use href="#B" x="188" y="1246"/><use href="#H44" x="188" y="1246"/></g>
<g id="p555-IV1"><use href="#ci" x="39" y="1372"/></g>
<g id="p555-IV2"><use href="#sq" x="86" y="1372"/><use href="#H45" x="77" y="1397"/><use href="#B" x="96" y="1397"/><use href="#H44" x="96" y="1397"/></g>
<g id="p555-IV3"><use href="#ci" x="132" y="1372"/></g>
<g id="p555-IV4"><use href="#fci" x="177" y="1372"/><use href="#ar" x="177" y="1372"/><use href="#B" x="167" y="1397"/><use href="#H44" x="167" y="1397"/><use href="#H47" x="186" y="1397"/><rect class="bx" x="179" y="1385" width="14" height="83.8"/></g>
</g>

<g id="ped556">
<text class="ttl" x="433" y="1186">556</text>
<g id="p556-I1"><use href="#dsq" x="410" y="1205"/></g>
<g id="p556-I2"><use href="#dci" x="459" y="1205"/></g>
<g id="p556-II1"><use href="#dci" x="404" y="1247"/></g>
<g id="p556-II2"><use href="#dsq" x="462" y="1247"/></g>
<g id="p556-III1"><use href="#dsq" x="404" y="1296"/></g>
<g id="p556-III2"><use href="#dci" x="462" y="1296"/></g>
<g id="p556-IV1"><use href="#dfci" x="343" y="1372"/><use href="#ar" x="343" y="1372"/><text class="ast" x="357" y="1370">*</text><use href="#B" x="334" y="1397"/><use href="#H48" x="334" y="1397"/><use href="#H49" x="353" y="1397"/><rect class="bx" x="346" y="1385" width="14" height="83.8"/></g>
<g id="p556-IV2"><use href="#dfci" x="389" y="1372"/></g>
<g id="p556-IV3"><use href="#dfsq" x="434" y="1372"/></g>
<g id="p556-IV4"><use href="#fci" x="479" y="1372"/><use href="#H50" x="470" y="1397"/><rect class="bx" x="463" y="1385" width="14" height="72.5"/><use href="#B" x="491" y="1397"/><use href="#H48" x="491" y="1397"/></g>
<g id="p556-IV5"><use href="#ci" x="524" y="1372"/><use href="#H51" x="513" y="1397"/><use href="#B" x="535" y="1397"/><use href="#H48" x="535" y="1397"/></g>
</g>

<g id="ped557">
<text class="ttl" x="797" y="1185">557</text>
<g id="p557-I1"><use href="#dsq" x="766" y="1221"/></g>
<g id="p557-I2"><use href="#dci" x="825" y="1221"/></g>
<g id="p557-II1"><use href="#dci" x="767" y="1258"/></g>
<g id="p557-II2"><use href="#dsq" x="825" y="1258"/></g>
<g id="p557-III1"><use href="#sq" x="767" y="1296"/><path class="br" d="M708,1230H703V1330H708 M737,1230H742V1330H737"/><use href="#B" x="717" y="1244"/><use href="#H52" x="717" y="1244"/><use href="#H53" x="732" y="1244"/></g>
<g id="p557-III2"><use href="#ci" x="825" y="1296"/><path class="br" d="M864,1230H859V1330H864 M893,1230H898V1330H893"/><use href="#H54" x="867" y="1244"/><use href="#B" x="884" y="1244"/><use href="#H55" x="884" y="1244"/></g>
<g id="p557-IV1"><use href="#sq" x="643" y="1370"/></g>
<g id="p557-IV2"><use href="#sq" x="681" y="1370"/></g>
<g id="p557-IV3"><use href="#ci" x="721" y="1370"/><use href="#H53" x="713" y="1394"/><use href="#B" x="730" y="1394"/><use href="#H55" x="730" y="1394"/></g>
<g id="p557-IV4"><use href="#sq" x="756" y="1370"/></g>
<g id="p557-IV5"><use href="#ci" x="797" y="1370"/></g>
<g id="p557-IV6"><use href="#fci" x="832" y="1370"/><use href="#ar" x="832" y="1370"/><use href="#B" x="822" y="1394"/><use href="#H52" x="822" y="1394"/><use href="#B" x="841" y="1394"/><use href="#H55" x="841" y="1394"/></g>
<g id="p557-IV7"><use href="#sq" x="872" y="1370"/></g>
<g id="p557-IV8"><use href="#sq" x="905" y="1370"/></g>
<g id="p557-IV9"><use href="#ci" x="942" y="1370"/><use href="#B" x="933" y="1394"/><use href="#H52" x="933" y="1394"/><use href="#H54" x="948" y="1394"/></g>
<g id="p557-markers"><text class="mk" x="965" y="1394">D6S255</text><text class="mk" x="965" y="1405.3">D6S437</text><text class="mk" x="965" y="1416.6">D6S411</text><text class="mk" x="965" y="1427.9">D6S305</text><text class="mk" x="965" y="1439.2">SOD2</text><text class="mk" x="965" y="1450.5">D6S253</text><text class="mk" x="965" y="1461.8">D6S264</text><text class="mk" x="965" y="1473.1">D6S297</text></g>
<g id="p557-V1"><use href="#sq" x="831" y="1507"/><use href="#H56" x="820" y="1532"/><use href="#H57" x="840" y="1532"/><rect class="bx" x="833" y="1542.6" width="14" height="71.5"/></g>
<g id="p557-V2"><use href="#sq" x="879" y="1507"/><use href="#H58" x="869" y="1532"/><use href="#B" x="890" y="1532"/><use href="#H55" x="890" y="1532"/></g>
</g>
</svg>
